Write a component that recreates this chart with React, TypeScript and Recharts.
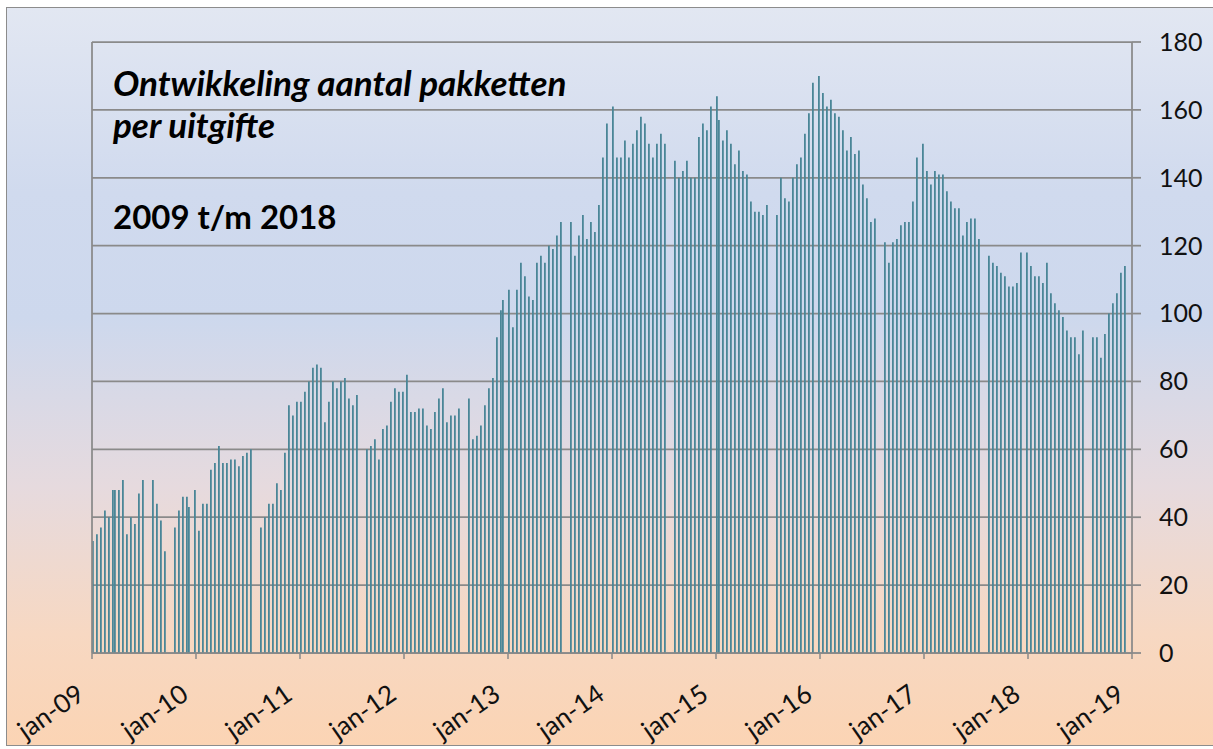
import { BarChart, Bar, XAxis, YAxis, CartesianGrid, ReferenceLine } from "recharts";

// issue week (within the year) and number of packages for that issue
const weeks2009 = [1, 3, 5, 7, 9, 11, 12, 14, 16, 18, 20, 22, 24, 26, 31, 33, 35, 37, 42, 44, 46, 48, 49, 52];
const counts2009 = [33, 35, 37, 42, 40, 48, 48, 48, 51, 35, 40, 38, 47, 51, 51, 44, 39, 30, 37, 42, 46, 46, 43, 48];

const weeks2010 = [2, 4, 6, 8, 10, 12, 14, 16, 18, 20, 22, 24, 26, 28, 33, 35, 37, 39, 41, 43, 45, 47, 49, 51];
const counts2010 = [36, 44, 44, 54, 56, 61, 56, 56, 57, 57, 55, 58, 59, 60, 37, 40, 44, 44, 50, 48, 59, 73, 70, 74];

const weeks2011 = [1, 3, 5, 7, 9, 11, 13, 15, 17, 19, 21, 23, 25, 27, 29, 34, 36, 38, 40, 42, 44, 46, 48, 50, 52];
const counts2011 = [74, 77, 80, 84, 85, 84, 68, 74, 80, 78, 80, 81, 75, 73, 76, 60, 61, 63, 57, 66, 67, 74, 78, 77, 77];

const weeks2012 = [2, 4, 6, 8, 10, 12, 14, 16, 18, 20, 22, 24, 26, 28, 33, 35, 37, 39, 41, 43, 45, 47, 49, 50];
const counts2012 = [82, 71, 71, 72, 72, 67, 66, 71, 75, 78, 68, 70, 70, 72, 75, 63, 64, 67, 73, 78, 81, 93, 101, 104];

const weeks2013 = [1, 3, 5, 7, 9, 11, 13, 15, 17, 19, 21, 23, 25, 27, 32, 34, 36, 38, 40, 42, 44, 46, 48, 50];
const counts2013 = [107, 96, 107, 115, 111, 105, 104, 115, 117, 115, 120, 119, 123, 127, 127, 117, 123, 129, 122, 127, 124, 132, 146, 156];

const weeks2014 = [1, 3, 5, 7, 9, 11, 13, 15, 17, 19, 21, 23, 25, 27, 32, 34, 36, 38, 40, 42, 44, 46, 48, 50];
const counts2014 = [161, 146, 146, 151, 146, 150, 154, 158, 156, 150, 146, 150, 153, 150, 145, 140, 142, 145, 140, 140, 152, 156, 154, 161];

const weeks2015 = [1, 2, 4, 6, 8, 10, 12, 14, 16, 18, 20, 22, 24, 26, 31, 33, 35, 37, 39, 41, 43, 45, 47, 49, 52];
const counts2015 = [164, 157, 151, 154, 150, 144, 148, 142, 141, 133, 130, 130, 129, 132, 129, 140, 134, 133, 140, 144, 146, 153, 159, 168, 170];

const weeks2016 = [2, 4, 6, 8, 10, 12, 14, 16, 18, 20, 22, 24, 26, 28, 33, 35, 37, 39, 41, 43, 45, 47, 49, 52];
const counts2016 = [165, 161, 163, 159, 158, 154, 148, 152, 147, 148, 138, 134, 127, 128, 121, 115, 121, 122, 126, 127, 127, 133, 146, 150];

const weeks2017 = [2, 4, 6, 8, 10, 12, 14, 16, 18, 20, 22, 24, 26, 28, 33, 35, 37, 39, 41, 43, 45, 47, 49, 52];
const counts2017 = [142, 138, 142, 141, 141, 136, 133, 131, 131, 123, 127, 128, 128, 122, 117, 115, 114, 112, 111, 108, 108, 109, 118, 118];

const weeks2018 = [2, 4, 6, 8, 10, 12, 14, 16, 18, 20, 22, 24, 26, 28, 33, 35, 37, 39, 41, 43, 45, 47, 49];
const counts2018 = [114, 111, 111, 109, 115, 106, 103, 101, 99, 95, 93, 93, 88, 95, 93, 93, 87, 94, 100, 103, 106, 112, 114];

const yearTicks = [2009, 2010, 2011, 2012, 2013, 2014, 2015, 2016, 2017, 2018, 2019];
const valueTicks = [0, 20, 40, 60, 80, 100, 120, 140, 160, 180];

const years: [number, number[], number[]][] = [
  [2009, weeks2009, counts2009],
  [2010, weeks2010, counts2010],
  [2011, weeks2011, counts2011],
  [2012, weeks2012, counts2012],
  [2013, weeks2013, counts2013],
  [2014, weeks2014, counts2014],
  [2015, weeks2015, counts2015],
  [2016, weeks2016, counts2016],
  [2017, weeks2017, counts2017],
  [2018, weeks2018, counts2018],
];

const data = years.flatMap(([year, weeks, counts]) =>
  weeks.map((wk, i) => ({ t: year + (wk - 0.5) / 52, pakketten: counts[i] }))
);

const FONT = "Lato, 'Open Sans', sans-serif";
const GRID = "#8a8a8a";

function YearTick({ x, y, payload }: any) {
  const label = "jan-" + String(payload.value).slice(2);
  const tx = x - 6;
  const ty = y + 39;
  return (
    <text
      x={tx}
      y={ty}
      transform={`rotate(-35, ${tx}, ${ty})`}
      textAnchor="end"
      fontSize={26}
      fontFamily={FONT}
      fill="#111"
    >
      {label}
    </text>
  );
}

export default function App() {
  return (
    <div style={{ position: "absolute", left: 0, top: 0, width: 1213, height: 749, background: "#fff" }}>
      <div
        style={{
          position: "absolute",
          left: 6,
          top: 7,
          width: 1210,
          height: 737,
          border: "1px solid #8c8c8c",
          background:
            "linear-gradient(to bottom, #e2e7f2 0%, #d0daee 25%, #cdd8ed 42%, #e6dade 65%, #f7d8c2 85%, #fbd4b4 100%)",
        }}
      />
      <div style={{ position: "absolute", left: 0, top: 0 }}>
        <BarChart
          width={1213}
          height={749}
          data={data}
          margin={{ top: 42, right: 11, bottom: 16, left: 92 }}
          barCategoryGap={0}
        >
          <CartesianGrid horizontal vertical={false} stroke={GRID} strokeWidth={1.75} />
          <XAxis
            type="number"
            dataKey="t"
            domain={[2009, 2019]}
            ticks={yearTicks}
            interval={0}
            height={80}
            axisLine={{ stroke: GRID, strokeWidth: 1.75 }}
            tickLine={{ stroke: GRID, strokeWidth: 1.5 }}
            tickSize={6}
            tickMargin={0}
            tick={<YearTick />}
          />
          <YAxis
            orientation="right"
            domain={[0, 180]}
            ticks={valueTicks}
            interval={0}
            width={70}
            axisLine={{ stroke: GRID, strokeWidth: 1.75 }}
            tickLine={{ stroke: GRID, strokeWidth: 1.75 }}
            tickSize={9}
            tickMargin={18}
            tick={{ fontSize: 25, fontFamily: FONT, fill: "#111" }}
          />
          <ReferenceLine x={2009} stroke={GRID} strokeWidth={1.75} />
          <Bar dataKey="pakketten" fill="#4a8697" barSize={2} isAnimationActive={false} />
        </BarChart>
      </div>
      <svg
        width={1213}
        height={749}
        style={{ position: "absolute", left: 0, top: 0, pointerEvents: "none" }}
      >
        <text x={113} y={96} fontSize={35} fontWeight={700} fontStyle="italic" fontFamily={FONT} fill="#000">
          Ontwikkeling aantal pakketten
        </text>
        <text x={113} y={138} fontSize={35} fontWeight={700} fontStyle="italic" fontFamily={FONT} fill="#000">
          per uitgifte
        </text>
        <text x={113} y={229} fontSize={33} fontWeight={700} fontFamily={FONT} fill="#000">
          2009 t/m 2018
        </text>
      </svg>
    </div>
  );
}
